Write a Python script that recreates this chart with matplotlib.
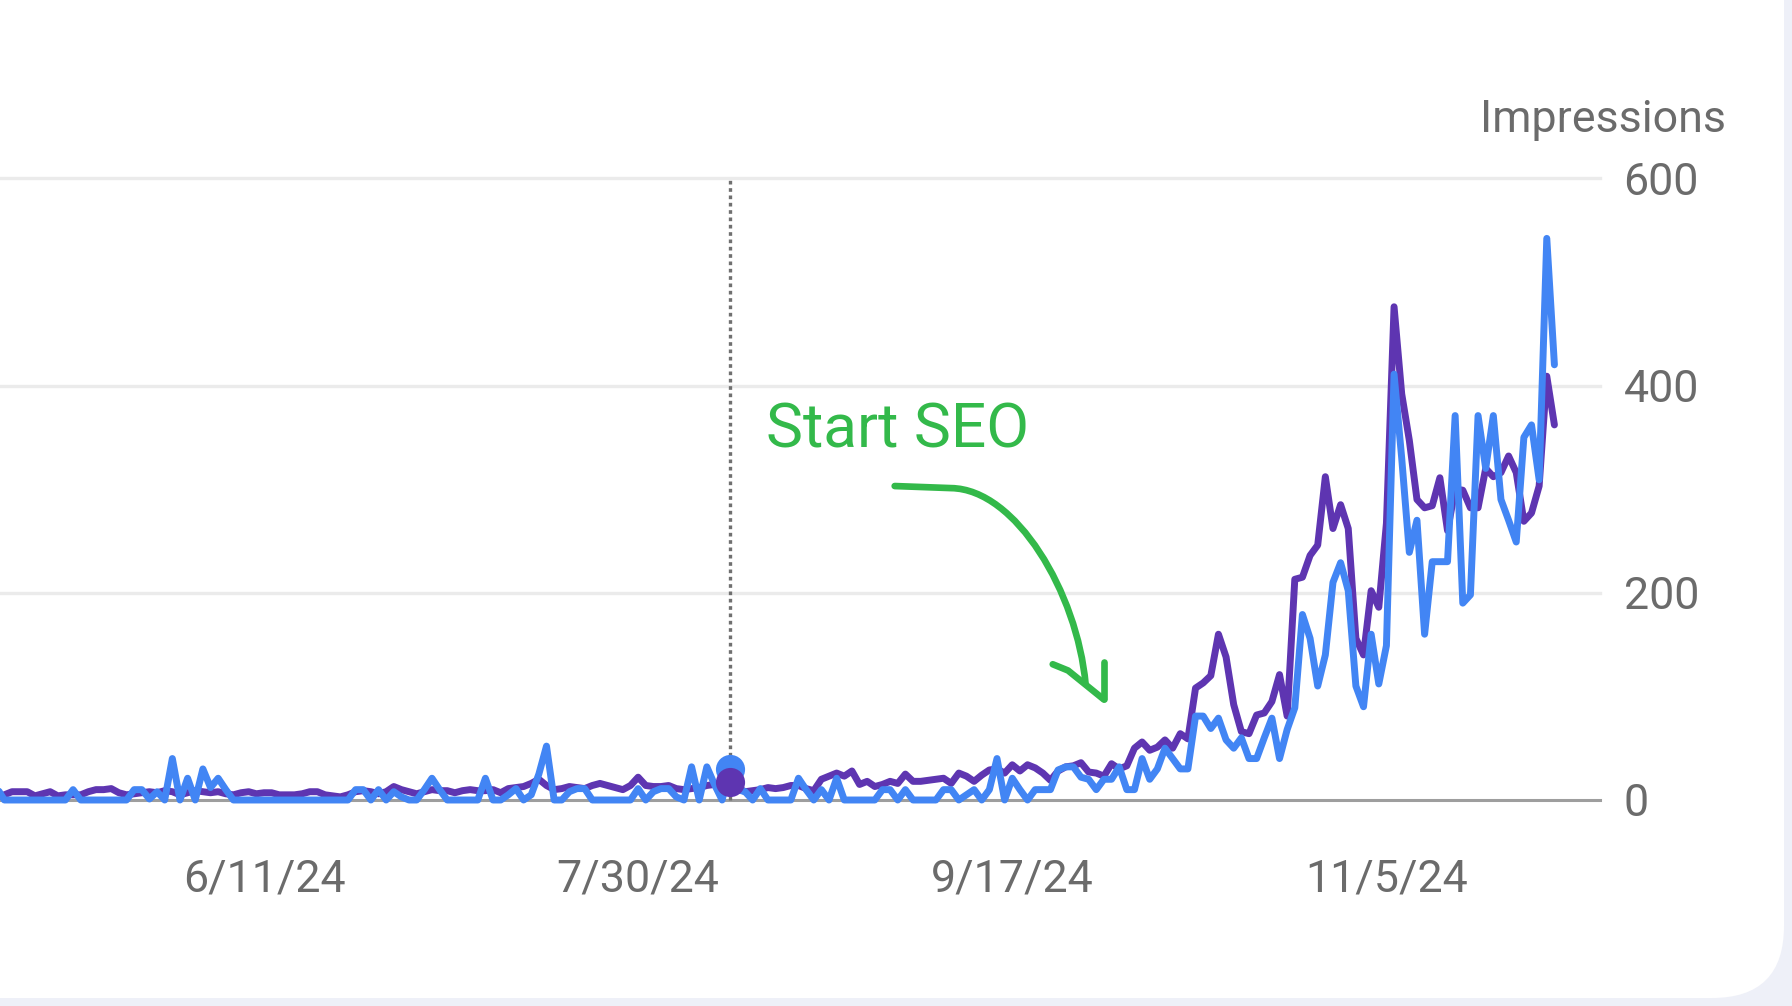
import matplotlib
matplotlib.use("Agg")
import matplotlib.pyplot as plt
import matplotlib.dates as mdates
import pandas as pd
from matplotlib.patches import FancyBboxPatch, PathPatch
from matplotlib.path import Path
from matplotlib.transforms import IdentityTransform

plt.rcParams['font.family'] = ['Roboto', 'DejaVu Sans']

## daily values (both drawn on the impressions scale)
start_date = '2024-05-07'
end_date = '2024-11-27'

clicks = [
    12, 0, 0, 0, 0, 0, 0, 0, 0, 0,
    10, 0, 0, 0, 0, 0, 0, 0, 10, 10,
    1, 8, 0, 40, 0, 21, 0, 30, 12, 21,
    10, 0, 0, 0, 0, 0, 0, 0, 0, 0,
    0, 0, 0, 0, 0, 0, 0, 10, 10, 0,
    10, 0, 8, 3, 0, 0, 10, 21, 10, 0,
    0, 0, 0, 0, 21, 0, 0, 5, 11, 0,
    5, 25, 52, 0, 0, 8, 11, 11, 0, 0,
    0, 0, 0, 0, 11, 0, 8, 11, 11, 3,
    0, 32, 0, 32, 15, 0, 30, 10, 8, 0,
    11, 0, 0, 0, 0, 21, 10, 0, 10, 0,
    21, 0, 0, 0, 0, 0, 10, 10, 0, 10,
    0, 0, 0, 0, 10, 10, 0, 5, 10, 0,
    10, 40, 0, 21, 10, 0, 10, 10, 10, 29,
    32, 32, 22, 20, 10, 20, 20, 32, 10, 10,
    40, 20, 30, 50, 40, 30, 30, 81, 81, 69,
    79, 58, 50, 60, 40, 40, 60, 79, 40, 68,
    89, 179, 156, 110, 140, 210, 229, 202, 110, 90,
    160, 112, 149, 411, 330, 239, 270, 160, 230, 230,
    230, 371, 190, 198, 371, 320, 371, 290, 270, 249,
    350, 362, 309, 542, 420,
]

impressions = [
    3, 5, 8, 8, 8, 4, 6, 8, 4, 5,
    5, 5, 8, 10, 10, 11, 7, 5, 6, 7,
    8, 7, 9, 8, 5, 7, 9, 8, 7, 8,
    6, 5, 7, 8, 6, 7, 7, 5, 5, 5,
    6, 8, 8, 5, 4, 3, 5, 8, 9, 8,
    6, 8, 13, 10, 8, 6, 8, 10, 9, 9,
    7, 9, 10, 9, 9, 10, 7, 11, 12, 13,
    16, 20, 14, 10, 11, 13, 12, 11, 14, 16,
    14, 12, 10, 14, 22, 14, 13, 13, 14, 11,
    10, 11, 12, 14, 15, 16, 17, 12, 8, 9,
    10, 12, 11, 12, 14, 14, 11, 9, 20, 23,
    26, 23, 28, 15, 18, 13, 15, 18, 16, 25,
    18, 18, 19, 20, 21, 16, 26, 23, 18, 24,
    29, 30, 26, 34, 28, 34, 31, 26, 19, 28,
    32, 33, 36, 27, 26, 23, 35, 30, 33, 50,
    56, 48, 51, 58, 50, 64, 59, 108, 113, 120,
    160, 138, 92, 66, 64, 82, 84, 95, 121, 81,
    213, 215, 236, 246, 312, 262, 285, 262, 156, 140,
    202, 186, 267, 476, 392, 347, 290, 282, 284, 311,
    260, 300, 299, 282, 282, 320, 312, 316, 332, 316,
    269, 277, 303, 409, 362,
]

tick_dates = ['2024-06-11', '2024-07-30', '2024-09-17', '2024-11-05']
tick_labels = ['6/11/24', '7/30/24', '9/17/24', '11/5/24']
y_ticks = [0, 200, 400, 600]
hover_date = '2024-08-11'
axis_title = 'Impressions'
note_text = 'Start SEO'

# colours
purple = '#5e35b1'
blue = '#4285f4'
green = '#33b94a'
grey_txt = '#6b6b6b'
grid_col = '#ebebeb'
lw_series = 5.0
label_size = 32.2

dates = pd.date_range(start_date, end_date, freq='D')
x = mdates.date2num(dates)
x0 = x[0]

fig = plt.figure(figsize=(17.92, 10.06), dpi=100)
fig.patch.set_facecolor('#eef0f8')

# white card with rounded bottom-right corner (pixel coords)
card = FancyBboxPatch((-200, 8), 1984, 1200,
                      boxstyle='round,pad=0,rounding_size=72',
                      transform=IdentityTransform(),
                      facecolor='white', edgecolor='none', zorder=-5)
fig.add_artist(card)

ax = fig.add_axes([0, 206 / 1006, 1600 / 1792, 621.7 / 1006])
ax.patch.set_visible(False)
for s in ax.spines.values():
    s.set_visible(False)

ax.set_ylim(0, 600)
ax.set_xlim(x0 + 0.43, x0 + 209.97)

# grid
for v in y_ticks[1:]:
    ax.axhline(v, color=grid_col, lw=2.4, zorder=1, clip_on=False)
ax.axhline(0, color='#9e9e9e', lw=2.2, zorder=1, clip_on=False)

# hover line
hx = mdates.date2num(pd.Timestamp(hover_date))
ax.plot([hx, hx], [0, 600], color='#707070', lw=2.4,
        ls=(0, (1.1, 1.1)), dash_capstyle='butt', zorder=2, clip_on=False)

ax.plot(x, impressions, color=purple, lw=lw_series, solid_joinstyle='round',
        solid_capstyle='round', zorder=3, clip_on=False)
ax.plot(x, clicks, color=blue, lw=lw_series, solid_joinstyle='round',
        solid_capstyle='round', zorder=4, clip_on=False)

hi = list(dates).index(pd.Timestamp(hover_date))
ax.plot(hx, clicks[hi], 'o', color=blue, ms=21, mec='none', zorder=5)
ax.plot(hx, impressions[hi], 'o', color=purple, ms=21, mec='none', zorder=6)

# ticks
ax.set_xticks(mdates.date2num(pd.to_datetime(tick_dates)))
ax.set_xticklabels(tick_labels)
ax.tick_params(axis='x', length=0, pad=42, labelsize=label_size, labelcolor=grey_txt)
ax.yaxis.tick_right()
ax.set_yticks(y_ticks)
ax.set_yticklabels([str(v) for v in y_ticks])
ax.tick_params(axis='y', length=0, pad=17, labelsize=label_size, labelcolor=grey_txt)

fig.text(1726 / 1792, (1006 - 131.7) / 1006, axis_title, ha='right',
         va='baseline', fontsize=label_size, color=grey_txt)

# hand drawn note
ax.text(x0 + 100.7, 340, note_text, ha='left', va='baseline',
        fontsize=44.8, color=green, zorder=7)

curve = Path([(x0 + 117.6, 303), (x0 + 125.0, 301), (x0 + 133.5, 300),
              (x0 + 141.5, 200), (x0 + 142.6, 112)],
             [Path.MOVETO, Path.LINETO, Path.CURVE4, Path.CURVE4, Path.CURVE4])
ax.add_patch(PathPatch(curve, fill=False, edgecolor=green, lw=4.8,
                       capstyle='round', joinstyle='round', zorder=7,
                       clip_on=False))
ax.plot([x0 + 138.3, x0 + 140.3, x0 + 145.0], [131, 125, 97], color=green,
        lw=4.8, solid_capstyle='round', solid_joinstyle='round', zorder=7)
ax.plot([x0 + 145.0, x0 + 145.0], [133, 97], color=green, lw=4.8,
        solid_capstyle='round', zorder=7)

fig.savefig('out.png', dpi=100, facecolor=fig.get_facecolor())
